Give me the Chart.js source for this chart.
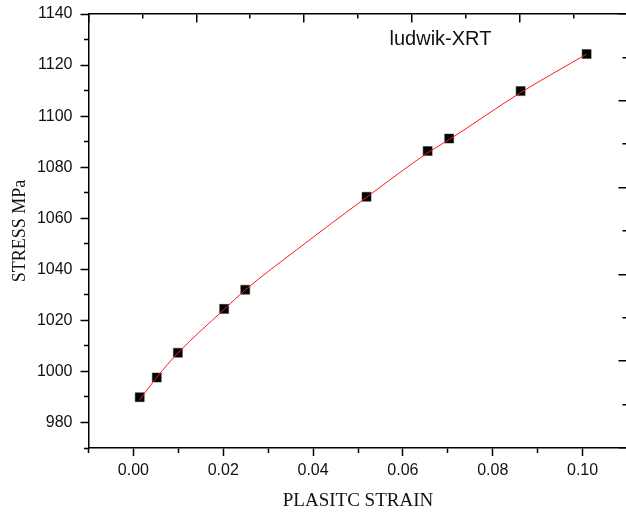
<!DOCTYPE html>
<html>
<head>
<meta charset="utf-8">
<title>ludwik-XRT</title>
<script src="https://cdn.jsdelivr.net/npm/chart.js@4/dist/chart.umd.min.js"></script>
<style>
  html, body { margin: 0; padding: 0; background: #fff; overflow: hidden; }
</style>
</head>
<body>
<canvas id="stress-chart" width="628" height="516"></canvas>
<script>
/* Ludwik fit of XRT stress vs plastic strain */

// measured points (black squares)
var strainPts = [0.0014, 0.0052, 0.0099, 0.0202, 0.0249, 0.0519, 0.0655, 0.0703, 0.0862, 0.1009];
var stressPts = [989.9, 997.6, 1007.3, 1024.5, 1032.0, 1068.4, 1086.3, 1091.2, 1109.8, 1124.3];

// fitted curve (red line)
var fitStrain = [0.0013, 0.0052, 0.0099, 0.0202, 0.0249, 0.0363, 0.0519, 0.0655, 0.0703, 0.0862, 0.1009];
var fitStress = [988.6, 997.7, 1007.2, 1024.3, 1031.9, 1047.6, 1068.2, 1085.6, 1090.8, 1109.2, 1124.3];

// axis ranges and tick steps
var xRange = [-0.01, 0.11];
var yRange = [970, 1140];
var xStep = 0.01;
var yStep = 10;

var SERIES_LABEL = 'ludwik-XRT';
var X_TITLE = 'PLASITC STRAIN';
var Y_TITLE = 'STRESS MPa';

var AXIS_COLOR = '#000';
var TEXT_COLOR = '#111';
var SANS = '"Liberation Sans", Arial, sans-serif';
var SERIF = '"Liberation Serif", "Times New Roman", serif';

function toPoints(xs, ys) {
  return xs.map(function(x, i) { return { x: x, y: ys[i] }; });
}

function isMajorX(v) { return Math.round(v * 100) % 2 === 0; }
function isMajorY(v) { return Math.round(v) % 20 === 0; }

// labels may hang over the frame; keep the plot box where the reference has it
function noLabelPadding(s) {
  s.paddingTop = 0;
  s.paddingBottom = 0;
  s.paddingLeft = 0;
  s.paddingRight = 0;
}

// outward ticks: minor ones drawn shorter through the dash pattern
function bottomTickDash(c) {
  if (!c.tick) return [];
  return isMajorX(c.tick.value) ? [] : [4.5, 100];
}
function leftTickDash(c) {
  if (!c.tick) return [];
  return isMajorY(c.tick.value) ? [] : [0, 3.5, 4.5, 100];
}
// inward ticks on top/right: short stubs of the grid lines
function topInnerDash(c) {
  if (!c.tick) return [];
  return c.tick.value % 2 === 0 ? [8, 10000] : [4, 10000];
}
function rightInnerDash(c) {
  if (!c.tick) return [];
  var area = c.chart.chartArea;
  var len = c.tick.value % 2 === 0 ? 9 : 5;
  var w = area ? area.right - area.left : 540;
  return [0, w - len, len, 10000];
}

var curveLabel = {
  id: 'curveLabel',
  afterDraw: function(chart) {
    var area = chart.chartArea;
    var ctx = chart.ctx;
    ctx.save();
    ctx.font = '20px ' + SANS;
    ctx.fillStyle = TEXT_COLOR;
    ctx.textBaseline = 'alphabetic';
    ctx.fillText(SERIES_LABEL, area.left + 301, area.top + 31);
    ctx.restore();
  }
};

new Chart(document.getElementById('stress-chart').getContext('2d'), {
  type: 'scatter',
  data: {
    datasets: [
      {
        label: 'fit',
        data: toPoints(fitStrain, fitStress),
        showLine: true,
        borderColor: '#ff1a1a',
        borderWidth: 1,
        pointRadius: 0,
        cubicInterpolationMode: 'monotone',
        order: 0
      },
      {
        label: 'data',
        data: toPoints(strainPts, stressPts),
        pointStyle: 'rect',
        pointRadius: 6.4,
        backgroundColor: '#000',
        borderColor: '#333',
        borderWidth: 0.5,
        order: 1
      }
    ]
  },
  options: {
    responsive: false,
    animation: false,
    layout: { autoPadding: false, padding: { top: 14, right: 0.5, bottom: 0, left: 0 } },
    plugins: {
      legend: { display: false },
      tooltip: { enabled: false }
    },
    scales: {
      x: {
        type: 'linear',
        position: 'bottom',
        min: xRange[0],
        max: xRange[1],
        afterFit: function(s) { s.height = 68; noLabelPadding(s); },
        ticks: {
          stepSize: xStep,
          autoSkip: false,
          maxRotation: 0,
          padding: 5,
          color: TEXT_COLOR,
          font: { family: SANS, size: 16 },
          callback: function(v) { return isMajorX(v) ? (Math.round(v * 100) / 100).toFixed(2) : ''; }
        },
        grid: {
          drawOnChartArea: false,
          drawTicks: true,
          tickLength: 8,
          tickWidth: 1.5,
          tickColor: AXIS_COLOR,
          tickBorderDash: bottomTickDash
        },
        border: { display: true, color: AXIS_COLOR, width: 1.5 },
        title: {
          display: true,
          text: X_TITLE,
          color: TEXT_COLOR,
          font: { family: SERIF, size: 19 },
          padding: { top: 0, bottom: 3.5 }
        }
      },
      y: {
        type: 'linear',
        position: 'left',
        min: yRange[0],
        max: yRange[1],
        afterFit: function(s) { s.width = 88.5; noLabelPadding(s); },
        ticks: {
          stepSize: yStep,
          autoSkip: false,
          padding: 8,
          color: TEXT_COLOR,
          font: { family: SANS, size: 16 },
          callback: function(v) { return isMajorY(v) && v > yRange[0] ? String(Math.round(v)) : ''; }
        },
        grid: {
          drawOnChartArea: false,
          drawTicks: true,
          tickLength: 8,
          tickWidth: 1.5,
          tickColor: AXIS_COLOR,
          tickBorderDash: leftTickDash
        },
        border: { display: true, color: AXIS_COLOR, width: 1.5 },
        title: {
          display: true,
          text: Y_TITLE,
          color: TEXT_COLOR,
          font: { family: SERIF, size: 18 },
          padding: { top: 9, bottom: 0 }
        }
      },
      xTop: {
        type: 'linear',
        position: 'top',
        min: 0,
        max: 10,
        afterFit: noLabelPadding,
        ticks: { display: false, stepSize: 1 },
        grid: {
          drawOnChartArea: true,
          drawTicks: false,
          color: AXIS_COLOR,
          lineWidth: 1.5
        },
        border: { display: true, color: AXIS_COLOR, width: 1.5, dash: topInnerDash }
      },
      yRight: {
        type: 'linear',
        position: 'right',
        min: 0,
        max: 10,
        afterFit: noLabelPadding,
        ticks: { display: false, stepSize: 1 },
        grid: {
          drawOnChartArea: true,
          drawTicks: false,
          color: AXIS_COLOR,
          lineWidth: 1.5
        },
        border: { display: false, dash: rightInnerDash }
      }
    }
  },
  plugins: [curveLabel]
});
</script>
</body>
</html>
